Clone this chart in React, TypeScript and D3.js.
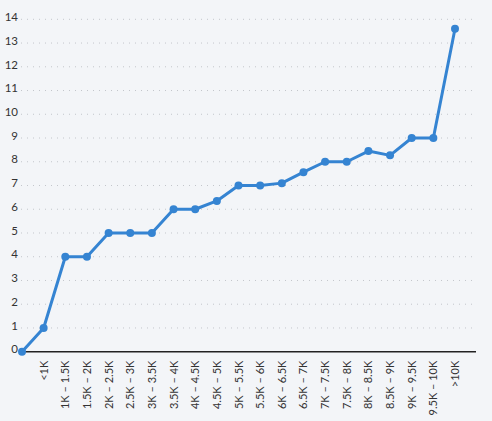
import { useRef, useEffect } from 'react';
import * as d3 from 'd3';

const categories = [
    '', '<1K', '1K – 1.5K', '1.5K – 2K', '2K – 2.5K', '2.5K – 3K', '3K – 3.5K',
    '3.5K – 4K', '4K – 4.5K', '4.5K – 5K', '5K – 5.5K', '5.5K – 6K', '6K – 6.5K',
    '6.5K – 7K', '7K – 7.5K', '7.5K – 8K', '8K – 8.5K', '8.5K – 9K', '9K – 9.5K',
    '9.5K – 10K', '>10K',
];

const values = [
    0, 1, 4, 4, 5, 5, 5, 6, 6, 6.35, 7, 7, 7.1, 7.56, 8, 8, 8.45, 8.27, 9, 9, 13.6,
];

const yTicks = [0, 1, 2, 3, 4, 5, 6, 7, 8, 9, 10, 11, 12, 13, 14];

export default function App() {
    const svgRef = useRef<SVGSVGElement>(null);

    useEffect(() => {
        if (!svgRef.current) return;
        document.body.style.margin = '0';

        const width = 492;
        const height = 421;
        const svg = d3.select(svgRef.current);
        svg.selectAll('*').remove();

        svg.append('rect')
            .attr('width', width)
            .attr('height', height)
            .attr('fill', '#f3f5f8');

        const x = d3.scalePoint<string>()
            .domain(categories)
            .range([22, 455]);

        const y = d3.scaleLinear()
            .domain([0, 14])
            .range([351.7, 19.3]);

        const font = 'Lato, "Open Sans", sans-serif';

        // Grid lines
        svg.append('g')
            .selectAll('line')
            .data(yTicks.slice(1))
            .enter()
            .append('line')
            .attr('x1', 21)
            .attr('x2', 477)
            .attr('y1', d => y(d))
            .attr('y2', d => y(d))
            .attr('stroke', '#c3c6cb')
            .attr('stroke-width', 1)
            .attr('stroke-dasharray', '1,5');

        // Y labels
        svg.append('g')
            .selectAll('text')
            .data(yTicks)
            .enter()
            .append('text')
            .attr('x', 18)
            .attr('y', d => y(d))
            .attr('dy', '0.15em')
            .attr('text-anchor', 'end')
            .attr('fill', '#333')
            .style('font-family', font)
            .style('font-size', '11.5px')
            .text(d => d);

        // Baseline
        svg.append('line')
            .attr('x1', 22)
            .attr('x2', 476)
            .attr('y1', y(0))
            .attr('y2', y(0))
            .attr('stroke', '#222')
            .attr('stroke-width', 1.5);

        // X labels
        svg.append('g')
            .selectAll('text')
            .data(categories)
            .enter()
            .append('text')
            .attr('transform', d => `translate(${(x(d) ?? 0) + 4},${y(0) + 9}) rotate(-90)`)
            .attr('text-anchor', 'end')
            .attr('fill', '#333')
            .style('font-family', font)
            .style('font-size', '11px')
            .text(d => d);

        const line = d3.line<number>()
            .x((_, i) => x(categories[i]) ?? 0)
            .y(d => y(d));

        svg.append('path')
            .datum(values)
            .attr('fill', 'none')
            .attr('stroke', '#3584d2')
            .attr('stroke-width', 3)
            .attr('stroke-linejoin', 'round')
            .attr('d', line);

        svg.append('g')
            .selectAll('circle')
            .data(values)
            .enter()
            .append('circle')
            .attr('cx', (_, i) => x(categories[i]) ?? 0)
            .attr('cy', d => y(d))
            .attr('r', 4)
            .attr('fill', '#3584d2');
    }, []);

    return <svg ref={svgRef} width={492} height={421} style={{ display: 'block' }}></svg>;
}
